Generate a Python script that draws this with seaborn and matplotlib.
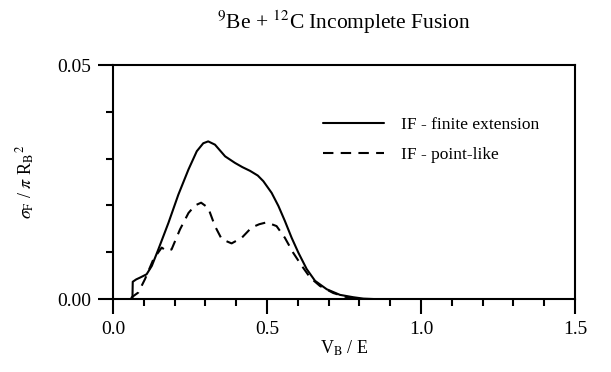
import numpy as np
import pandas as pd
import seaborn as sns
import matplotlib
matplotlib.use("Agg")
import matplotlib.pyplot as plt
from matplotlib.ticker import MultipleLocator, FixedLocator

# Data
x_finite = [0.060, 0.063, 0.064, 0.075, 0.088, 0.109, 0.126, 0.147, 0.180, 0.212, 0.245, 0.272,
            0.293, 0.309, 0.331, 0.364, 0.396, 0.420, 0.445, 0.470, 0.488, 0.515, 0.537, 0.558,
            0.580, 0.602, 0.629, 0.656, 0.694, 0.737, 0.780, 0.813, 0.850, 1.0, 1.5]
y_finite = [0.0, 0.0, 0.0037, 0.0042, 0.0046, 0.0053, 0.0071, 0.0106, 0.0163, 0.0223, 0.0277,
            0.0316, 0.0333, 0.0337, 0.0330, 0.0305, 0.0291, 0.0282, 0.0274, 0.0264, 0.0252,
            0.0227, 0.0199, 0.0167, 0.0131, 0.0099, 0.0064, 0.0039, 0.0021, 0.0009, 0.0004,
            0.0001, 0.0, 0.0, 0.0]
x_point = [0.058, 0.061, 0.082, 0.104, 0.131, 0.158, 0.174, 0.190, 0.2175, 0.245, 0.266, 0.286,
           0.309, 0.331, 0.353, 0.385, 0.418, 0.450, 0.475, 0.499, 0.531, 0.558, 0.585, 0.613,
           0.640, 0.672, 0.715, 0.759, 0.802, 1.0, 1.5]
y_point = [0.0, 0.0004, 0.0014, 0.0043, 0.0085, 0.0110, 0.0103, 0.0106, 0.0149, 0.0184, 0.0200,
           0.0206, 0.0195, 0.0156, 0.0128, 0.0119, 0.0131, 0.0153, 0.0160, 0.0164, 0.0156,
           0.0131, 0.0099, 0.0071, 0.0046, 0.0028, 0.0013, 0.0004, 0.0, 0.0, 0.0]
labels = ["IF - finite extension", "IF - point-like"]
x_ticks = [0.0, 0.5, 1.0, 1.5]
y_ticks = [0.00, 0.05]

sns.set_theme(style="ticks")
plt.rcParams['font.family'] = ['Liberation Serif', 'DejaVu Serif']
plt.rcParams['mathtext.fontset'] = 'stix'
plt.rcParams['text.color'] = 'black'
plt.rcParams['axes.labelcolor'] = 'black'

df = pd.concat([
    pd.DataFrame({"x": x_finite, "y": y_finite, "series": labels[0]}),
    pd.DataFrame({"x": x_point, "y": y_point, "series": labels[1]}),
])

fig = plt.figure(figsize=(6.11, 3.72), dpi=100)
ax = fig.add_axes([0.185, 0.196, 0.756, 0.629])

sns.lineplot(data=df, x="x", y="y", style="series", hue="series",
             palette=["black", "black"], dashes=[(None, None), (5, 3.5)],
             sort=False, estimator=None, linewidth=1.5, ax=ax)

ax.set_xlim(0, 1.5)
ax.set_ylim(0, 0.05)
ax.xaxis.set_major_locator(FixedLocator(x_ticks))
ax.yaxis.set_major_locator(FixedLocator(y_ticks))
ax.xaxis.set_minor_locator(MultipleLocator(0.1))
ax.yaxis.set_minor_locator(MultipleLocator(0.01))
ax.set_xticklabels([f"{v:.1f}" for v in x_ticks])
ax.set_yticklabels([f"{v:.2f}" for v in y_ticks])
ax.tick_params(which="major", direction="out", length=11, width=1.5, labelsize=14,
               colors="black", pad=5)
ax.tick_params(which="minor", direction="out", length=5, width=1.5, colors="black")
for s in ax.spines.values():
    s.set_linewidth(1.5)
    s.set_color("black")

ax.set_xlabel(r"V$_{\rm B}$ / E", fontsize=13, labelpad=0)
ax.set_ylabel(r"$\sigma_{\rm F}$ / $\pi$ R$_{\rm B}$$^{2}$", fontsize=13, labelpad=14)
ax.set_title(r"$^{9}$Be + $^{12}$C Incomplete Fusion", fontsize=15.5, pad=26)

leg = ax.legend(loc="upper left", bbox_to_anchor=(0.44, 0.81), frameon=False, fontsize=12.5,
                handlelength=3.5, labelspacing=0.8, handletextpad=1.0, borderaxespad=0)
for h in leg.get_lines():
    h.set_linewidth(1.5)

fig.savefig("out.png", dpi=100)
